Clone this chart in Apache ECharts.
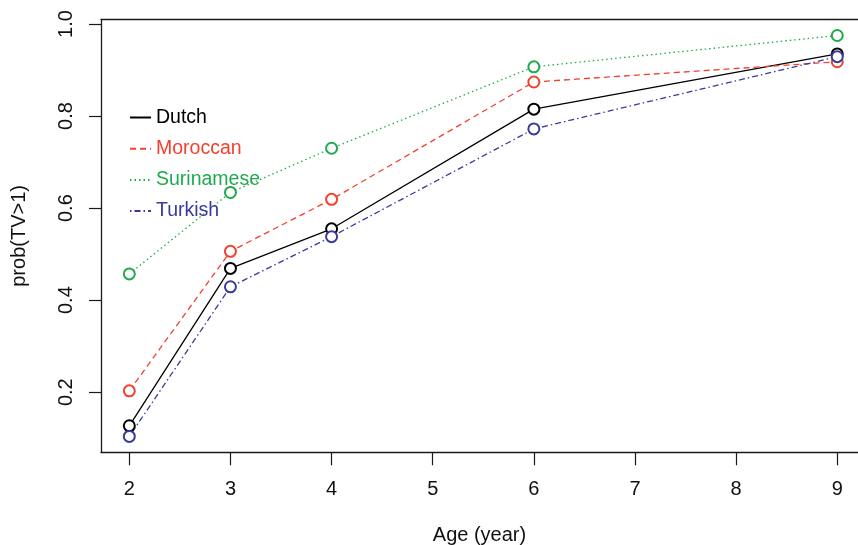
<!DOCTYPE html>
<html>
<head>
<meta charset="utf-8">
<script src="https://cdn.jsdelivr.net/npm/echarts@6/dist/echarts.min.js"></script>
<style>
  html, body { margin: 0; padding: 0; background: #fff; }
  #chart { width: 858px; height: 545px; }
</style>
</head>
<body>
<div id="chart"></div>
<script>
// Age at measurement (years)
const ages = [2, 3, 4, 6, 9];

// Estimated probability of watching more than one hour of TV, per group
const dutch      = [0.127, 0.469, 0.555, 0.815, 0.935];
const moroccan   = [0.203, 0.506, 0.619, 0.874, 0.918];
const surinamese = [0.457, 0.634, 0.730, 0.907, 0.975];
const turkish    = [0.104, 0.429, 0.538, 0.772, 0.929];

const xTicks = [2, 3, 4, 5, 6, 7, 8, 9];
const yTicks = [0.2, 0.4, 0.6, 0.8, 1.0];

const FONT = '"Liberation Sans", Arial, sans-serif';
const AXIS_COLOR = '#1a1a1a';

const groups = [
  { name: 'Dutch',      values: dutch,      color: '#000000', dash: 'solid' },
  { name: 'Moroccan',   values: moroccan,   color: '#f2412e', dash: [6, 4] },
  { name: 'Surinamese', values: surinamese, color: '#1fab4c', dash: [1.5, 3] },
  { name: 'Turkish',    values: turkish,    color: '#3a3a9e', dash: [1.5, 3, 6, 3] }
];

const chart = echarts.init(document.getElementById('chart'), null, { renderer: 'canvas' });

chart.setOption({
  animation: false,
  backgroundColor: '#ffffff',
  grid: {
    left: 101, right: 0, top: 19.5, bottom: 92.7,
    containLabel: false,
    outerBoundsMode: 'none'
  },
  xAxis: [{
    type: 'value',
    min: 1.72,
    max: 9.205,
    name: 'Age (year)',
    nameLocation: 'middle',
    nameGap: 73,
    nameTextStyle: { fontFamily: FONT, fontSize: 20, color: '#111' },
    splitLine: { show: false },
    axisLine: { show: true, onZero: false, lineStyle: { color: AXIS_COLOR, width: 1.3 } },
    axisTick: { show: true, length: 13, customValues: xTicks, lineStyle: { color: AXIS_COLOR, width: 1.2 } },
    axisLabel: {
      customValues: xTicks,
      margin: 27,
      fontFamily: FONT, fontSize: 20, color: '#111',
      formatter: v => String(v)
    }
  }, {
    // top edge of the plotting box
    type: 'value',
    position: 'top',
    min: 1.72,
    max: 9.205,
    splitLine: { show: false },
    axisLine: { show: true, onZero: false, lineStyle: { color: AXIS_COLOR, width: 1.3 } },
    axisTick: { show: false },
    axisLabel: { show: false }
  }],
  yAxis: {
    type: 'value',
    min: 0.0694,
    max: 1.0098,
    name: 'prob(TV>1)',
    nameLocation: 'middle',
    nameGap: 72,
    nameRotate: 90,
    nameTextStyle: { fontFamily: FONT, fontSize: 20, color: '#111' },
    splitLine: { show: false },
    axisLine: { show: true, onZero: false, lineStyle: { color: AXIS_COLOR, width: 1.3 } },
    axisTick: { show: true, length: 12, customValues: yTicks, lineStyle: { color: AXIS_COLOR, width: 1.2 } },
    axisLabel: {
      customValues: yTicks,
      rotate: 90,
      margin: 25,
      fontFamily: FONT, fontSize: 20, color: '#111',
      formatter: v => v.toFixed(1)
    }
  },
  legend: {
    orient: 'vertical',
    left: 129,
    top: 107.5,
    padding: 0,
    itemWidth: 21,
    itemHeight: 14,
    itemGap: 11.2,
    itemStyle: { opacity: 0 },
    textStyle: { fontFamily: FONT, fontSize: 19.5, lineHeight: 20 },
    data: groups.map(g => ({ name: g.name, textStyle: { color: g.color } }))
  },
  series: groups.map(g => ({
    name: g.name,
    type: 'line',
    data: ages.map((a, i) => [a, g.values[i]]),
    symbol: 'emptyCircle',
    symbolSize: 11,
    color: g.color,
    lineStyle: { color: g.color, width: 1.3, type: g.dash },
    itemStyle: { color: g.color, borderColor: g.color, borderWidth: 1.1 }
  }))
});
</script>
</body>
</html>
